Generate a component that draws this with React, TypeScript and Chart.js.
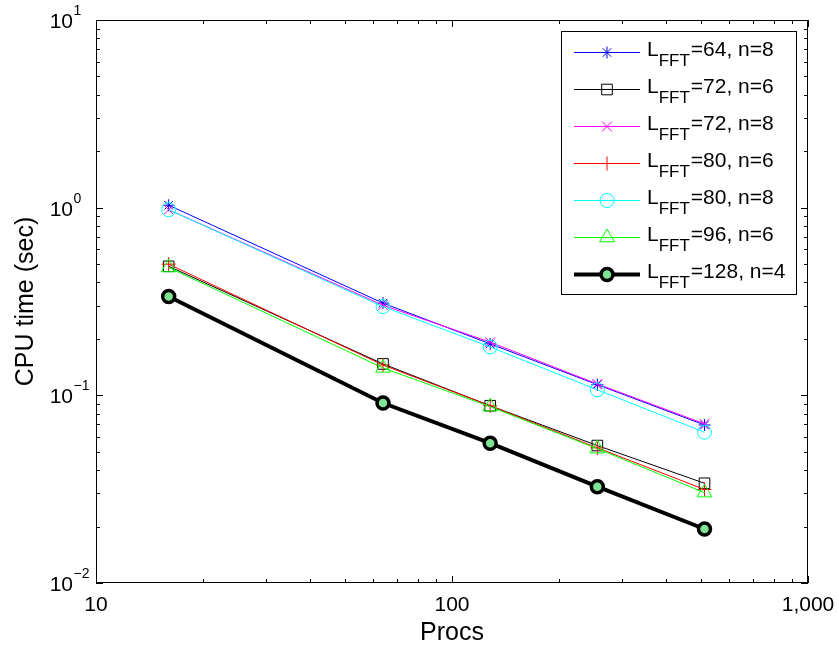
import React, { useEffect, useRef } from "react";
import { Chart, registerables } from "chart.js";
import { drawPoint } from "chart.js/helpers";

Chart.register(...registerables);

// ---- data ----
const procs = [16, 64, 128, 256, 512];
const l64n8 = [1.03, 0.31, 0.188, 0.114, 0.0695];
const l72n6 = [0.487, 0.147, 0.088, 0.054, 0.034];
const l72n8 = [0.975, 0.302, 0.192, 0.115, 0.0705];
const l80n6 = [0.5, 0.145, 0.088, 0.0525, 0.0315];
const l80n8 = [0.975, 0.297, 0.181, 0.107, 0.0636];
const l96n6 = [0.48, 0.14, 0.087, 0.052, 0.0303];
const l128n4 = [0.336, 0.091, 0.0556, 0.0326, 0.0194];

const seriesNames = ["=64, n=8", "=72, n=6", "=72, n=8", "=80, n=6", "=80, n=8", "=96, n=6", "=128, n=4"];
const seriesValues = [l64n8, l72n6, l72n8, l80n6, l80n8, l96n6, l128n4];

const xTickValues = [10, 100, 1000];
const xTickLabels = ["10", "100", "1,000"];
const yTickValues = [10, 1, 0.1, 0.01];
const yTickExps = ["1", "0", "\u22121", "\u22122"];

const xTitle = "Procs";
const yTitle = "CPU time (sec)";

// ---- styles ----
const FONT = "'Liberation Sans', Arial, Helvetica, sans-serif";
const clear = "rgba(0,0,0,0)";
const styles = [
  { color: "#0000ff", style: "star", radius: 6, width: 1, bw: 1, bg: clear },
  { color: "#000000", style: "rect", radius: 7.5, width: 1, bw: 1, bg: clear },
  { color: "#ff00ff", style: "crossRot", radius: 7, width: 1, bw: 1, bg: clear },
  { color: "#ff0000", style: "cross", radius: 7, width: 1, bw: 1, bg: clear },
  { color: "#00ffff", style: "circle", radius: 7, width: 1, bw: 1, bg: clear },
  { color: "#00ff00", style: "triangle", radius: 8.5, width: 1, bw: 1, bg: clear },
  { color: "#000000", style: "circle", radius: 6, width: 4, bw: 3.5, bg: "#7fe395" },
];

const overlay = {
  id: "overlay",
  afterDraw(chart: any) {
    const ctx: CanvasRenderingContext2D = chart.ctx;
    const { left, right, top, bottom } = chart.chartArea;
    const xs = chart.scales.x;
    const ys = chart.scales.y;
    ctx.save();
    ctx.strokeStyle = "#000";
    ctx.lineWidth = 1;
    // box
    ctx.strokeRect(left + 0.5, top + 0.5, right - left - 1, bottom - top - 1);
    // x ticks
    ctx.beginPath();
    for (let k = 1; k <= 3; k++) {
      for (let m = 1; m <= 9; m++) {
        const v = m * Math.pow(10, k);
        if (v > 1000 + 1e-9) continue;
        const px = Math.round(xs.getPixelForValue(v)) + 0.5;
        const len = m === 1 ? 7 : 4;
        ctx.moveTo(px, bottom);
        ctx.lineTo(px, bottom - len);
        ctx.moveTo(px, top);
        ctx.lineTo(px, top + len);
      }
    }
    for (let k = -2; k <= 1; k++) {
      for (let m = 1; m <= 9; m++) {
        const v = m * Math.pow(10, k);
        if (v > 10 + 1e-9) continue;
        const py = Math.round(ys.getPixelForValue(v)) + 0.5;
        const len = m === 1 ? 7 : 4;
        ctx.moveTo(left, py);
        ctx.lineTo(left + len, py);
        ctx.moveTo(right, py);
        ctx.lineTo(right - len, py);
      }
    }
    ctx.stroke();

    // x tick labels
    ctx.fillStyle = "#000";
    ctx.font = `21px ${FONT}`;
    ctx.textAlign = "center";
    ctx.textBaseline = "alphabetic";
    xTickValues.forEach((v, i) => {
      ctx.fillText(xTickLabels[i], xs.getPixelForValue(v), 611);
    });
    // y tick labels
    yTickValues.forEach((v, i) => {
      const py = ys.getPixelForValue(v);
      ctx.font = `21px ${FONT}`;
      ctx.textAlign = "right";
      ctx.fillText("10", 73, py + 8);
      ctx.font = `14px ${FONT}`;
      ctx.textAlign = "left";
      ctx.fillText(yTickExps[i], 73.5, py - 5);
    });
    // titles
    ctx.font = `25px ${FONT}`;
    ctx.textAlign = "center";
    ctx.fillText(xTitle, (left + right) / 2, 640);
    ctx.save();
    ctx.translate(33, (top + bottom) / 2);
    ctx.rotate(-Math.PI / 2);
    ctx.fillText(yTitle, 0, 0);
    ctx.restore();

    // legend
    const lx0 = 561, ly0 = 31, lx1 = 797, ly1 = 295;
    ctx.fillStyle = "#fff";
    ctx.fillRect(lx0, ly0, lx1 - lx0, ly1 - ly0);
    ctx.strokeStyle = "#000";
    ctx.lineWidth = 1;
    ctx.strokeRect(lx0 + 0.5, ly0 + 0.5, lx1 - lx0 - 1, ly1 - ly0 - 1);
    seriesNames.forEach((name, i) => {
      const st = styles[i];
      const y = 52 + i * 37;
      ctx.strokeStyle = st.color;
      ctx.lineWidth = st.width;
      ctx.beginPath();
      ctx.moveTo(574, y + 0.5);
      ctx.lineTo(640, y + 0.5);
      ctx.stroke();
      ctx.fillStyle = st.bg;
      ctx.strokeStyle = st.color;
      ctx.lineWidth = st.bw;
      drawPoint(ctx, { pointStyle: st.style as any, radius: st.radius, rotation: 0, borderWidth: st.bw } as any, 607, y + 0.5);
      ctx.fillStyle = "#000";
      ctx.textAlign = "left";
      ctx.font = `21px ${FONT}`;
      ctx.fillText("L", 647, y + 3.5);
      const lw = ctx.measureText("L").width;
      ctx.font = `17px ${FONT}`;
      ctx.fillText("FFT", 647 + lw, y + 13.5);
      const fw = ctx.measureText("FFT").width;
      ctx.font = `21px ${FONT}`;
      ctx.fillText(name, 647 + lw + fw + 1, y + 3.5);
    });
    ctx.restore();
  },
};

export default function App() {
  const ref = useRef<HTMLCanvasElement>(null);
  useEffect(() => {
    if (!ref.current) return;
    const datasets = seriesValues.map((vals, i) => {
      const st = styles[i];
      return {
        label: "L_FFT" + seriesNames[i],
        data: procs.map((p, j) => ({ x: p, y: vals[j] })),
        borderColor: st.color,
        borderWidth: st.width,
        pointStyle: st.style,
        pointRadius: st.radius,
        pointBorderWidth: st.bw,
        pointBorderColor: st.color,
        pointBackgroundColor: st.bg,
        backgroundColor: st.bg,
        fill: false,
        tension: 0,
        order: seriesValues.length - i,
      };
    });
    const chart = new Chart(ref.current, {
      type: "line",
      data: { datasets: datasets as any },
      options: {
        responsive: false,
        animation: false,
        layout: { padding: { left: 0, top: 20, right: 31, bottom: 0 } },
        plugins: { legend: { display: false }, tooltip: { enabled: false } },
        scales: {
          x: {
            type: "logarithmic",
            min: 10,
            max: 1000,
            grid: { display: false },
            border: { display: false },
            ticks: { display: false },
            afterFit: (s: any) => { s.height = 67; },
          },
          y: {
            type: "logarithmic",
            min: 0.01,
            max: 10,
            grid: { display: false },
            border: { display: false },
            ticks: { display: false },
            afterFit: (s: any) => { s.width = 96; },
          },
        },
      },
      plugins: [overlay],
    });
    return () => chart.destroy();
  }, []);
  return (
    <div style={{ position: "absolute", left: 0, top: 0, width: 839, height: 650, background: "#fff" }}>
      <canvas ref={ref} width={839} height={650} />
    </div>
  );
}
